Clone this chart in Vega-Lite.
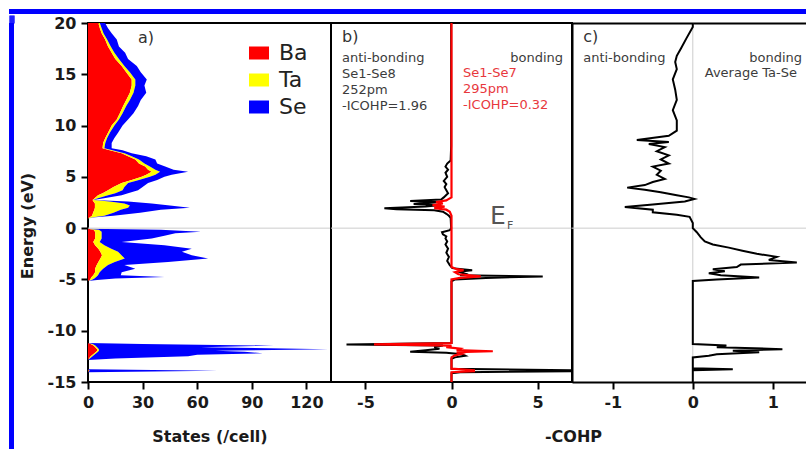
{
"$schema": "https://vega.github.io/schema/vega-lite/v6.json",
"background": "white",
"padding": {"left": 8, "top": 9, "right": 0, "bottom": 0},
"config": {
 "font": "DejaVu Sans",
 "view": {"stroke": "#000000", "strokeWidth": 2},
 "axis": {"labelFont": "DejaVu Sans", "labelFontSize": 16, "labelFontWeight": "bold", "labelColor": "#1a1a1a", "labelPadding": 5, "labelFlush": false, "labelOverlap": false, "labelExpr": "'' + datum.value", "titleFont": "DejaVu Sans", "titleFontSize": 16, "titleFontWeight": "bold", "titleColor": "#1a1a1a", "titlePadding": 18, "tickColor": "#000000", "tickWidth": 2, "tickSize": 7, "domainColor": "#000000", "domainWidth": 2, "grid": false},
 "text": {"font": "DejaVu Sans"}
},
"datasets": {
 "dos": [
  {"E":20,"Ba":5.7,"Ta":0.8,"Se":2.9},{"E":19.5,"Ba":6.5,"Ta":1.0,"Se":3.5},{"E":19,"Ba":7.5,"Ta":1.0,"Se":4.5},{"E":18.4,"Ba":9.4,"Ta":1.1,"Se":5.3},
  {"E":17.7,"Ba":11,"Ta":1.5,"Se":4.5},{"E":17.1,"Ba":13,"Ta":1.5,"Se":5.9},{"E":16.5,"Ba":15,"Ta":2,"Se":5},{"E":15.8,"Ba":18.5,"Ta":1.5,"Se":6.8},
  {"E":15.2,"Ba":21,"Ta":2,"Se":6},{"E":14.5,"Ba":24,"Ta":2,"Se":6.3},{"E":13.9,"Ba":24,"Ta":2,"Se":5},{"E":13.2,"Ba":23,"Ta":2,"Se":7},
  {"E":12.5,"Ba":21,"Ta":2,"Se":6},{"E":11.9,"Ba":19.3,"Ta":1.7,"Se":6.5},{"E":11.2,"Ba":17.5,"Ta":1.5,"Se":6},{"E":10.6,"Ba":15.8,"Ta":1.2,"Se":5},
  {"E":10,"Ba":13,"Ta":1.5,"Se":4.5},{"E":9.3,"Ba":11,"Ta":1,"Se":4.5},{"E":8.8,"Ba":9.5,"Ta":1,"Se":4},{"E":8.3,"Ba":8.3,"Ta":1.2,"Se":3.5},
  {"E":7.8,"Ba":8,"Ta":1,"Se":4},{"E":7.6,"Ba":12,"Ta":1.5,"Se":5.5},{"E":7.3,"Ba":18.5,"Ta":1.5,"Se":4},{"E":7.0,"Ba":22,"Ta":2,"Se":8},
  {"E":6.7,"Ba":26,"Ta":2,"Se":9},{"E":6.3,"Ba":28,"Ta":3,"Se":7},{"E":6.0,"Ba":31.4,"Ta":2.6,"Se":8.4},{"E":5.7,"Ba":33,"Ta":4,"Se":10},
  {"E":5.5,"Ba":35,"Ta":4.6,"Se":15.4},{"E":5.2,"Ba":32,"Ta":5,"Se":9},{"E":5.0,"Ba":29.5,"Ta":4.5,"Se":8},{"E":4.7,"Ba":24,"Ta":4,"Se":10},
  {"E":4.4,"Ba":18.5,"Ta":3.5,"Se":11},{"E":4.0,"Ba":14,"Ta":6,"Se":10},{"E":3.7,"Ba":11,"Ta":8,"Se":8.5},{"E":3.4,"Ba":8,"Ta":7,"Se":7},
  {"E":3.2,"Ba":5.5,"Ta":5.5,"Se":7.5},{"E":2.9,"Ba":3.5,"Ta":1.5,"Se":3},{"E":2.75,"Ba":2.5,"Ta":0.3,"Se":0.2},{"E":2.6,"Ba":3,"Ta":9,"Se":10},
  {"E":2.4,"Ba":3.8,"Ta":16.2,"Se":15},{"E":2.2,"Ba":3.8,"Ta":19.2,"Se":22},{"E":2.0,"Ba":3.8,"Ta":18.2,"Se":34},{"E":1.8,"Ba":3.5,"Ta":14.5,"Se":22},
  {"E":1.5,"Ba":2.8,"Ta":11.2,"Se":14.6},{"E":1.2,"Ba":2.2,"Ta":6.8,"Se":5},{"E":1.05,"Ba":1,"Ta":2,"Se":1},{"E":0.95,"Ba":0,"Ta":0,"Se":0},
  {"E":-0.05,"Ba":0,"Ta":0,"Se":0},{"E":-0.15,"Ba":3,"Ta":3,"Se":34},{"E":-0.35,"Ba":3.9,"Ta":3.6,"Se":54.5},{"E":-0.5,"Ba":4,"Ta":3.5,"Se":40.5},
  {"E":-0.75,"Ba":4,"Ta":3.5,"Se":34.5},{"E":-1.0,"Ba":3.9,"Ta":3.6,"Se":27.5},{"E":-1.35,"Ba":2.9,"Ta":3.5,"Se":12.1},{"E":-1.67,"Ba":3.9,"Ta":5.1,"Se":33},
  {"E":-2.0,"Ba":5.7,"Ta":7.1,"Se":44.2},{"E":-2.3,"Ba":6.8,"Ta":9.7,"Se":35.1},{"E":-2.65,"Ba":7.7,"Ta":10.7,"Se":38.6},{"E":-2.97,"Ba":6.8,"Ta":13.4,"Se":45.8},
  {"E":-3.3,"Ba":5.7,"Ta":9,"Se":29.3},{"E":-3.6,"Ba":4.8,"Ta":6.2,"Se":9},{"E":-3.95,"Ba":3.9,"Ta":4.4,"Se":17.7},{"E":-4.3,"Ba":3.9,"Ta":2.5,"Se":12.1},
  {"E":-4.6,"Ba":2.9,"Ta":2.6,"Se":12.5},{"E":-4.77,"Ba":2,"Ta":2.5,"Se":37.5},{"E":-4.9,"Ba":1.5,"Ta":2,"Se":11.5},{"E":-5.05,"Ba":1,"Ta":1,"Se":3},
  {"E":-5.15,"Ba":0,"Ta":0,"Se":0},{"E":-11.2,"Ba":0,"Ta":0,"Se":0},{"E":-11.3,"Ba":1.5,"Ta":1,"Se":27.5},{"E":-11.45,"Ba":3,"Ta":1,"Se":98},
  {"E":-11.6,"Ba":4,"Ta":1,"Se":57},{"E":-11.8,"Ba":5,"Ta":1,"Se":126},{"E":-11.95,"Ba":5,"Ta":1,"Se":64},{"E":-12.05,"Ba":4.5,"Ta":1,"Se":80.5},
  {"E":-12.2,"Ba":3.5,"Ta":1,"Se":91.5},{"E":-12.35,"Ba":2.5,"Ta":1,"Se":56.5},{"E":-12.5,"Ba":1.5,"Ta":1,"Se":52.5},{"E":-12.7,"Ba":0.5,"Ta":0.5,"Se":14},
  {"E":-12.85,"Ba":0,"Ta":0,"Se":0},{"E":-13.75,"Ba":0,"Ta":0,"Se":0},{"E":-13.9,"Ba":0.5,"Ta":0.5,"Se":70},{"E":-14.05,"Ba":0,"Ta":0,"Se":0},
  {"E":-15,"Ba":0,"Ta":0,"Se":0}
 ],
 "b8": [
  {"E":20,"v":-0.02},{"E":8,"v":-0.02},{"E":6.6,"v":-0.05},{"E":6.3,"v":-0.25},{"E":6.0,"v":-0.35},{"E":5.7,"v":-0.2},{"E":5.4,"v":-0.35},{"E":5.0,"v":-0.25},
  {"E":4.6,"v":-0.45},{"E":4.3,"v":-0.3},{"E":4.0,"v":-0.4},{"E":3.7,"v":-0.3},{"E":3.4,"v":-0.2},{"E":3.0,"v":-0.45},{"E":2.8,"v":-0.6},{"E":2.65,"v":-2.4},
  {"E":2.55,"v":-0.8},{"E":2.45,"v":-1.5},{"E":2.35,"v":-2.2},{"E":2.25,"v":-0.6},{"E":2.1,"v":-1.5},{"E":1.95,"v":-3.9},{"E":1.85,"v":-3.2},{"E":1.75,"v":-1.0},
  {"E":1.6,"v":-0.5},{"E":1.4,"v":-0.3},{"E":1.2,"v":-0.15},{"E":1.0,"v":-0.05},{"E":0,"v":-0.02},{"E":-0.2,"v":-0.1},{"E":-0.4,"v":-0.55},{"E":-0.6,"v":-0.5},
  {"E":-0.8,"v":-0.3},{"E":-1.0,"v":-0.35},{"E":-1.3,"v":-0.25},{"E":-1.6,"v":-0.35},{"E":-2.0,"v":-0.2},{"E":-2.4,"v":-0.3},{"E":-2.8,"v":-0.15},{"E":-3.2,"v":-0.25},
  {"E":-3.6,"v":-0.1},{"E":-3.9,"v":0.05},{"E":-4.1,"v":1.2},{"E":-4.25,"v":0.4},{"E":-4.45,"v":0.8},{"E":-4.6,"v":0.5},{"E":-4.72,"v":5.3},{"E":-4.85,"v":2.0},
  {"E":-5.0,"v":0.2},{"E":-5.2,"v":0},{"E":-11.2,"v":0},{"E":-11.35,"v":-6.1},{"E":-11.45,"v":-0.5},{"E":-11.6,"v":-1.0},{"E":-11.75,"v":-0.7},{"E":-11.9,"v":-1.5},
  {"E":-12.05,"v":-2.4},{"E":-12.15,"v":-0.3},{"E":-12.3,"v":0.6},{"E":-12.45,"v":0.8},{"E":-12.6,"v":0.2},{"E":-12.75,"v":0},{"E":-13.7,"v":0},{"E":-13.85,"v":6.9},
  {"E":-13.95,"v":6.9},{"E":-14.05,"v":0.5},{"E":-14.15,"v":0},{"E":-15,"v":0}
 ],
 "b7": [
  {"E":20,"v":0},{"E":3.0,"v":0},{"E":2.8,"v":-0.2},{"E":2.7,"v":-0.3},{"E":2.55,"v":-0.9},{"E":2.4,"v":-0.5},{"E":2.25,"v":-1.1},{"E":2.1,"v":-0.4},
  {"E":1.95,"v":-1.0},{"E":1.8,"v":-0.3},{"E":1.6,"v":-0.1},{"E":1.2,"v":0},{"E":-3.8,"v":0},{"E":-4.0,"v":0.3},{"E":-4.1,"v":0.7},{"E":-4.3,"v":0.2},
  {"E":-4.5,"v":0.4},{"E":-4.7,"v":1.7},{"E":-4.85,"v":0.5},{"E":-5.0,"v":0},{"E":-11.2,"v":0},{"E":-11.33,"v":-4.5},{"E":-11.45,"v":0},{"E":-11.6,"v":-0.3},
  {"E":-11.75,"v":0.5},{"E":-11.9,"v":0.3},{"E":-12.0,"v":2.4},{"E":-12.1,"v":0.3},{"E":-12.25,"v":0.6},{"E":-12.4,"v":0.2},{"E":-12.6,"v":0},{"E":-13.7,"v":0},
  {"E":-13.85,"v":1.3},{"E":-13.95,"v":1.3},{"E":-14.05,"v":0},{"E":-15,"v":0}
 ],
 "tase": [
  {"E":20,"v":0.0},{"E":19.6,"v":0.0},{"E":18.5,"v":-0.08},{"E":17.5,"v":-0.15},{"E":16.8,"v":-0.2},{"E":16.2,"v":-0.22},{"E":15.5,"v":-0.2},{"E":14.5,"v":-0.25},
  {"E":13.5,"v":-0.22},{"E":12.5,"v":-0.2},{"E":11.5,"v":-0.25},{"E":10.5,"v":-0.2},{"E":9.5,"v":-0.2},{"E":9.0,"v":-0.3},{"E":8.6,"v":-0.7},{"E":8.4,"v":-0.3},
  {"E":8.2,"v":-0.55},{"E":7.9,"v":-0.35},{"E":7.5,"v":-0.45},{"E":7.1,"v":-0.3},{"E":6.7,"v":-0.4},{"E":6.3,"v":-0.3},{"E":6.0,"v":-0.5},{"E":5.6,"v":-0.4},
  {"E":5.2,"v":-0.45},{"E":4.8,"v":-0.35},{"E":4.5,"v":-0.5},{"E":4.2,"v":-0.6},{"E":3.95,"v":-0.82},{"E":3.75,"v":-0.6},{"E":3.5,"v":-0.4},{"E":3.2,"v":-0.2},
  {"E":3.0,"v":-0.05},{"E":2.85,"v":0.02},{"E":2.6,"v":-0.1},{"E":2.3,"v":-0.5},{"E":2.05,"v":-0.85},{"E":1.8,"v":-0.5},{"E":1.55,"v":-0.5},{"E":1.3,"v":-0.2},
  {"E":1.1,"v":-0.04},{"E":0.5,"v":0},{"E":0,"v":0},{"E":-0.4,"v":0.05},{"E":-0.9,"v":0.1},{"E":-1.3,"v":0.15},{"E":-1.6,"v":0.25},{"E":-1.9,"v":0.45},
  {"E":-2.2,"v":0.62},{"E":-2.5,"v":0.8},{"E":-2.8,"v":1.05},{"E":-3.1,"v":0.95},{"E":-3.35,"v":1.3},{"E":-3.55,"v":0.6},{"E":-3.8,"v":0.55},{"E":-4.0,"v":0.25},
  {"E":-4.2,"v":0.4},{"E":-4.4,"v":0.2},{"E":-4.6,"v":0.35},{"E":-4.8,"v":0.83},{"E":-5.0,"v":0.3},{"E":-5.15,"v":0},{"E":-11.3,"v":0},{"E":-11.45,"v":0.42},
  {"E":-11.6,"v":0.3},{"E":-11.8,"v":1.12},{"E":-11.95,"v":0.5},{"E":-12.1,"v":0.83},{"E":-12.3,"v":0.3},{"E":-12.45,"v":0.2},{"E":-12.6,"v":0},{"E":-13.65,"v":0},
  {"E":-13.75,"v":0.5},{"E":-13.85,"v":0},{"E":-15,"v":0}
 ]
},
"spacing": 0,
"vconcat": [
 {"width": 798, "height": 5, "data": {"values": [{}]}, "mark": {"type": "point", "size": 0, "strokeWidth": 0, "opacity": 0}, "encoding": {}, "view": {"fill": "#0000ff", "stroke": null}},
 {"spacing": 3, "hconcat": [
  {"width": 5, "height": 427, "data": {"values": [{}]}, "mark": {"type": "point", "size": 0, "strokeWidth": 0, "opacity": 0},
   "encoding": {"x": {"datum": 0.5, "type": "quantitative", "scale": {"domain": [0, 1], "nice": false}, "axis": {"orient": "top", "values": [0.1, 0.3, 0.5, 0.7, 0.9], "tickSize": 8, "tickWidth": 1.3, "tickColor": "#0000ff", "tickCap": "butt", "tickRound": false, "labels": false, "labelPadding": 0, "domain": false, "title": null}}},
   "view": {"fill": "#0000ff", "stroke": null}},
  {"spacing": 0, "bounds": "flush", "hconcat": [
   {"width": 243, "height": 359,
    "layer": [
     {"data": {"name": "dos"},
      "transform": [{"fold": ["Ba", "Ta", "Se"], "as": ["el", "v"]}, {"lookup": "el", "from": {"data": {"values": [{"el": "Ba", "k": 1}, {"el": "Ta", "k": 2}, {"el": "Se", "k": 3}]}, "key": "el", "fields": ["k"]}}],
      "mark": {"type": "area", "orient": "horizontal"},
      "encoding": {
       "y": {"field": "E", "type": "quantitative", "scale": {"domain": [-15, 20], "nice": false, "zero": false}, "axis": {"values": [-15, -10, -5, 0, 5, 10, 15, 20], "title": "Energy (eV)", "titleY": 202.5, "titlePadding": 12, "domain": false}},
       "x": {"field": "v", "type": "quantitative", "stack": "zero", "scale": {"domain": [0, 133.5], "nice": false}, "axis": {"values": [0, 30, 60, 90, 120], "title": "States (/cell)", "domain": false}},
       "color": {"field": "el", "type": "nominal", "scale": {"domain": ["Ba", "Ta", "Se"], "range": ["#ff0000", "#ffff00", "#0000ff"]}, "legend": {"orient": "none", "legendX": 239, "legendY": 33, "title": null, "symbolType": "M-1,-0.65H1V0.65H-1Z", "symbolSize": 400, "symbolStrokeWidth": 0, "symbolOpacity": 1, "labelFont": "DejaVu Sans", "labelFontSize": 22, "labelFontWeight": "normal", "labelColor": "#222222", "labelOffset": 9, "rowPadding": 5, "padding": 0}},
       "order": {"field": "k", "type": "quantitative", "sort": "ascending"}
      }},
     {"data": {"values": [{}]}, "mark": {"type": "rule", "color": "#cccccc", "strokeWidth": 1}, "encoding": {"y": {"datum": 0}}},
     {"data": {"values": [{}]}, "mark": {"type": "text", "text": "a)", "align": "left", "baseline": "alphabetic", "fontSize": 16, "color": "#333333"}, "encoding": {"x": {"datum": 27.5}, "y": {"datum": 18.05}}}
    ]},
   {"width": 241, "height": 359,
    "layer": [
     {"data": {"values": [{}]}, "mark": {"type": "rule", "color": "#cccccc", "strokeWidth": 1}, "encoding": {"y": {"datum": 0, "axis": null}}},
     {"data": {"name": "b8"}, "mark": {"type": "line", "color": "#000000", "strokeWidth": 2, "clip": true},
      "encoding": {"x": {"field": "v", "type": "quantitative", "scale": {"domain": [-7, 7], "nice": false}, "axis": {"values": [-5, 0, 5], "title": "-COHP", "titleX": 242, "domain": false}}, "y": {"field": "E", "type": "quantitative", "scale": {"domain": [-15, 20], "nice": false, "zero": false}, "axis": null}, "order": {"field": "E", "type": "quantitative"}}},
     {"data": {"name": "b7"}, "mark": {"type": "line", "color": "#ff0000", "strokeWidth": 2.2, "clip": true},
      "encoding": {"x": {"field": "v", "type": "quantitative"}, "y": {"field": "E", "type": "quantitative", "axis": null}, "order": {"field": "E", "type": "quantitative"}}},
     {"data": {"values": [{}]}, "mark": {"type": "text", "text": "b)", "align": "left", "baseline": "alphabetic", "fontSize": 16, "color": "#333333"}, "encoding": {"x": {"datum": -6.36}, "y": {"datum": 18.15, "axis": null}}},
     {"data": {"values": [{}]}, "mark": {"type": "text", "text": ["anti-bonding", "Se1-Se8", "252pm", "-ICOHP=1.96"], "lineHeight": 16, "align": "left", "baseline": "alphabetic", "fontSize": 13, "color": "#3c3c3c"}, "encoding": {"x": {"datum": -6.36}, "y": {"datum": 16.2, "axis": null}}},
     {"data": {"values": [{}]}, "mark": {"type": "text", "text": "bonding", "align": "right", "baseline": "alphabetic", "fontSize": 13, "color": "#3c3c3c"}, "encoding": {"x": {"datum": 6.48}, "y": {"datum": 16.2, "axis": null}}},
     {"data": {"values": [{}]}, "mark": {"type": "text", "text": ["Se1-Se7", "295pm", "-ICOHP=0.32"], "lineHeight": 16, "align": "left", "baseline": "alphabetic", "fontSize": 13, "color": "#e8383d"}, "encoding": {"x": {"datum": 0.67}, "y": {"datum": 14.74, "axis": null}}},
     {"data": {"values": [{}]}, "mark": {"type": "text", "text": "E", "align": "left", "baseline": "alphabetic", "fontSize": 25, "color": "#555555"}, "encoding": {"x": {"datum": 2.24}, "y": {"datum": 0.4, "axis": null}}},
     {"data": {"values": [{}]}, "mark": {"type": "text", "text": "F", "align": "left", "baseline": "alphabetic", "fontSize": 11, "color": "#555555"}, "encoding": {"x": {"datum": 3.22}, "y": {"datum": -0.1, "axis": null}}}
    ]},
   {"width": 234, "height": 359,
    "view": {"stroke": null},
    "resolve": {"axis": {"x": "independent"}},
    "layer": [
     {"data": {"values": [{}]}, "mark": {"type": "rule", "color": "#cccccc", "strokeWidth": 1}, "encoding": {"y": {"datum": 0}}},
     {"data": {"values": [{}]}, "mark": {"type": "rule", "color": "#cccccc", "strokeWidth": 1}, "encoding": {"x": {"datum": 0, "axis": {"orient": "top", "labels": false, "ticks": false, "tickSize": 0, "labelPadding": 0, "title": null, "domain": true}}}},
     {"data": {"name": "tase"}, "mark": {"type": "line", "color": "#000000", "strokeWidth": 2, "clip": true},
      "encoding": {"x": {"field": "v", "type": "quantitative", "scale": {"domain": [-1.51, 1.415], "nice": false, "zero": false}, "axis": {"orient": "bottom", "values": [-1, 0, 1], "title": null, "domain": true}}, "y": {"field": "E", "type": "quantitative", "scale": {"domain": [-15, 20], "nice": false, "zero": false}, "axis": {"orient": "left", "labels": false, "ticks": false, "tickSize": 0, "labelPadding": 0, "title": null, "domain": true}}, "order": {"field": "E", "type": "quantitative"}}},
     {"data": {"values": [{}]}, "mark": {"type": "text", "text": "c)", "align": "left", "baseline": "alphabetic", "fontSize": 16, "color": "#333333", "clip": true}, "encoding": {"x": {"datum": -1.37, "axis": null}, "y": {"datum": 18.15}}},
     {"data": {"values": [{}]}, "mark": {"type": "text", "text": "anti-bonding", "align": "left", "baseline": "alphabetic", "fontSize": 13, "color": "#3c3c3c", "clip": true}, "encoding": {"x": {"datum": -1.37, "axis": null}, "y": {"datum": 16.2}}},
     {"data": {"values": [{}]}, "mark": {"type": "text", "text": "bonding", "align": "right", "baseline": "alphabetic", "fontSize": 13, "color": "#3c3c3c", "clip": true}, "encoding": {"x": {"datum": 1.365, "axis": null}, "y": {"datum": 16.2}}},
     {"data": {"values": [{}]}, "mark": {"type": "text", "text": "Average Ta-Se", "align": "left", "baseline": "alphabetic", "fontSize": 13, "color": "#3c3c3c", "clip": true}, "encoding": {"x": {"datum": 0.15, "axis": null}, "y": {"datum": 14.74}}}
    ]}
  ]}
 ]}
]
}
